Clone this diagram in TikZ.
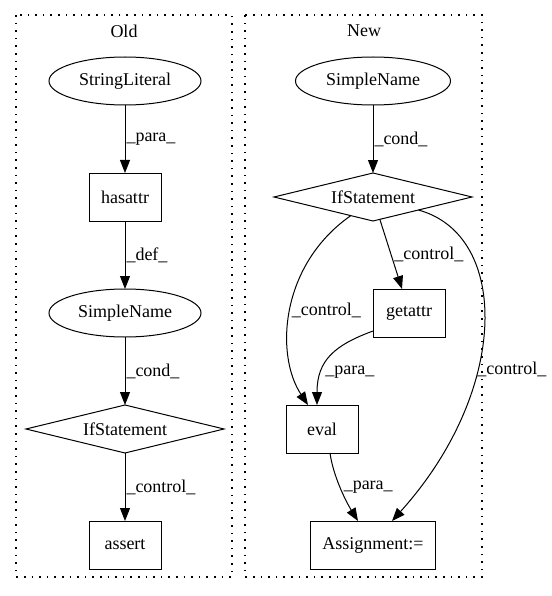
\documentclass[tikz,border=0pt]{standalone}
\usepackage{fontspec}
\setmainfont{Liberation Serif}
\usetikzlibrary{arrows.meta,chains,positioning,shapes.geometric}

\begin{document}
\begin{tikzpicture}[x=1pt, y=-1pt,
    font=\fontsize{18}{21}\selectfont,
    line width=1pt,
node distance=68pt,
 start chain = O going below,
    oval/.style = {ellipse, draw,% styles of nodes in the columns
                minimum width=152pt, minimum height=48pt,
                inner sep=2pt, outer sep=0pt},
     box/.style = {rectangle, draw,
                minimum width=72pt, minimum height=48pt,
                inner xsep=12pt, outer sep=0pt},
    cond/.style = {diamond, draw, aspect=4,
                minimum width=198pt, minimum height=48pt,
                inner sep=0pt, outer sep=0pt},
 cluster/.style = {draw, line width=1.4pt, dash pattern=on 1.6pt off 6pt},
    edge/.style = {-{Triangle[length=13pt,width=10pt]}},
     lbl/.style = {anchor=west, inner sep=1pt},
                        ]
\useasboundingbox (0,0) rectangle (551,596);
% the two clusters
\draw[cluster] (16,15) rectangle (232,577);
\draw[cluster] (245,15) rectangle (482,577);
\node (oldname) at (124,31) {Old};
\node (newname) at (364,31) {New};
% old version, one chain
\node[oval, on chain] at (125,81) {StringLiteral};
\foreach \s/\t in {box/hasattr,oval/SimpleName,cond/IfStatement,box/assert}% <-- style/content
    \node[\s, on chain] {\t};
\draw[edge] (O-1) -- node[lbl] {\_para\_} (O-2);
\draw[edge] (O-2) -- node[lbl] {\_def\_} (O-3);
\draw[edge] (O-3) -- node[lbl] {\_cond\_} (O-4);
\draw[edge] (O-4) -- node[lbl] {\_control\_} (O-5);
% new version
\node[oval, minimum width=155pt] (sn) at (373,81) {SimpleName};
\node[cond] (if2) at (373,197) {IfStatement};
\node[box] (getattr) at (409,313) {getattr};
\node[box] (eval) at (322,429) {eval};
\node[box] (assign) at (373,545) {Assignment:=};
\draw[edge] (sn) -- node[lbl] {\_cond\_} (if2);
\draw[edge] (if2.287) -- node[lbl, inner sep=3pt] {\_control\_} ([xshift=-7pt]getattr.north);
\draw[edge] (if2.220) .. controls (280,265) and (275,355) .. node[pos=0.5, lbl] {\_control\_} ([xshift=-14pt]eval.north);
\draw[edge] ([yshift=-18pt]getattr.west) .. controls (335,345) and (317,360) .. node[pos=0.7, lbl, inner sep=3pt] {\_para\_} ([xshift=-5pt]eval.north);
\draw[edge] (if2.344) .. controls (510,235) and (510,390) .. node[pos=0.62, lbl, inner sep=0pt] {\_control\_} ([xshift=19pt]assign.north);
\draw[edge] ([xshift=8pt]eval.south) .. controls (333,475) and (345,500) .. node[pos=0.5, lbl, inner sep=3pt] {\_para\_} ([xshift=-15pt]assign.north);
\end{tikzpicture}
\end{document}
